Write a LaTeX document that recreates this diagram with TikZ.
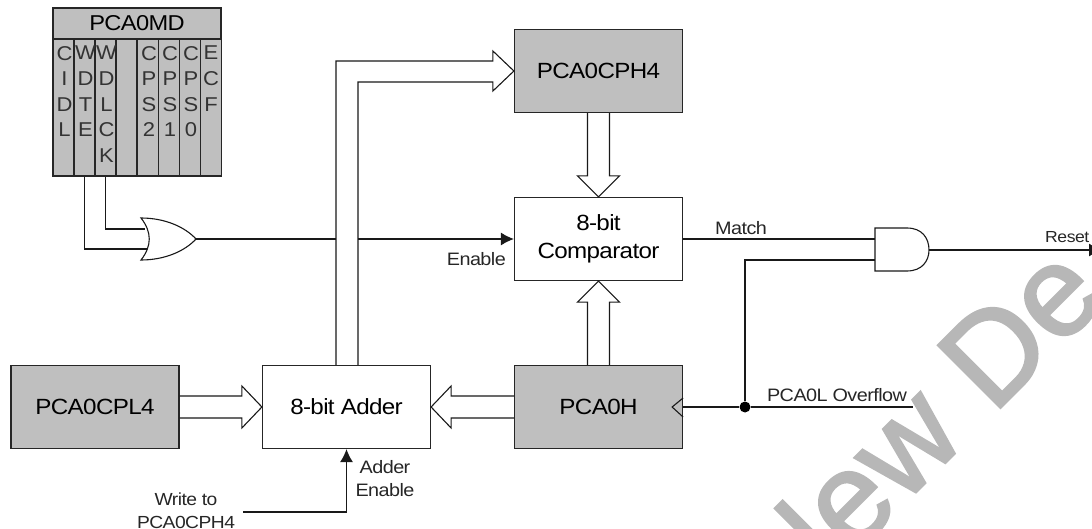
\documentclass[tikz,border=0pt]{standalone}
\usepackage{fontspec}
\setmainfont{Liberation Sans}[LetterSpace=-3,FakeStretch=1.1]
\newfontfamily\wmfont{Liberation Sans}[FakeBold=2]
\usetikzlibrary{calc,arrows.meta}
\definecolor{boxgray}{RGB}{191,191,191}
\definecolor{wmgray}{RGB}{183,183,183}
\tikzset{
  wire/.style={line width=1.1pt,draw=black!90},
  graybox/.style={draw=black!85,line width=1.2pt,fill=boxgray,minimum width=168pt,minimum height=83pt,inner sep=0pt,font=\fontsize{22}{28}\selectfont,align=center},
  whitebox/.style={graybox,fill=white},
  colbox/.style={draw=black!85,line width=1.2pt,fill=boxgray,minimum width=21pt,minimum height=137pt,inner sep=0pt},
  coltext/.style={anchor=north,inner sep=0pt,align=center,font=\fontsize{20}{25.6}\selectfont,text=black!80},
  small/.style={inner sep=0pt,align=center,font=\fontsize{18}{23}\selectfont,text=black!85},
  sig/.style={wire,-{Latex[length=13pt,width=13pt]}}
}
\newcommand{\hbus}[3]{% from, to, sign: sign = -1 head points to the right
  \draw[wire] ($(#1)+(0,-11)$) -- ($(#2)+(#3*20,-11)$) -- ($(#2)+(#3*20,-21)$) -- (#2) -- ($(#2)+(#3*20,21)$) -- ($(#2)+(#3*20,11)$) -- ($(#1)+(0,11)$);}
\newcommand{\vbus}[3]{%
  \draw[wire] ($(#1)+(-11,0)$) -- ($(#2)+(-11,#3*21)$) -- ($(#2)+(-21,#3*21)$) -- (#2) -- ($(#2)+(21,#3*21)$) -- ($(#2)+(11,#3*21)$) -- ($(#1)+(11,0)$);}
\begin{document}
\begin{tikzpicture}[x=1pt,y=-1pt]
\useasboundingbox (0,0) rectangle (1092,529);
\clip (0,0) rectangle (1092,529);
% watermark
\node[rotate=45,anchor=base east,inner sep=0pt,text=wmgray,font=\wmfont\fontsize{128}{128}\selectfont] (wm) at (1109,299) {New De};
% PCA0MD
\node[draw=black!85,line width=1.2pt,fill=boxgray,minimum width=168pt,minimum height=31pt,inner sep=0pt,font=\fontsize{21.5}{26}\selectfont] (md) at (137,23.5) {PCA0MD};
\node[colbox] (c1) at (63.5,107.5) {};
\node[colbox] (c2) at (84.5,107.5) {};
\node[colbox] (c3) at (105.5,107.5) {};
\node[colbox] (c4) at (126.5,107.5) {};
\node[colbox] (c5) at (148,107.5) {};
\node[colbox] (c6) at (169,107.5) {};
\node[colbox] (c7) at (190,107.5) {};
\node[colbox] (c8) at (211,107.5) {};
\node[coltext] (t1) at (64.5,46) {C\\I\\D\\L};
\node[coltext] (t2) at (85.5,46) {W\\D\\T\\E};
\node[coltext] (t3) at (106.5,46) {W\\D\\L\\C\\K};
\node[coltext] (t5) at (149,46) {C\\P\\S\\2};
\node[coltext] (t6) at (170,46) {C\\P\\S\\1};
\node[coltext] (t7) at (191,46) {C\\P\\S\\0};
\node[coltext] (t8) at (211,46) {E\\C\\F};
% blocks
\node[graybox] (cph) at (598.5,71) {PCA0CPH4};
\node[whitebox] (cmp) at (598.5,239) {8-bit\\Comparator};
\node[graybox] (pch) at (598.5,407) {PCA0H};
\node[graybox] (cpl) at (95,407) {PCA0CPL4};
\node[whitebox] (add) at (346.5,407) {8-bit Adder};
% coordinates
\coordinate (orA) at (145,229);
\coordinate (orB) at (147,249);
\coordinate (orout) at (196,239);
\coordinate (andA) at (875,239);
\coordinate (andB) at (875,260);
\coordinate (andout) at (929,250);
\coordinate (busW) at (336,239);
\coordinate (busE) at (358,239);
\coordinate (reset) at (1102,250);
\coordinate (ovf) at (913,407);
\coordinate (wr) at (243,512);
% PCA0MD to OR
\draw[wire] (c3.south) |- (orA);
\draw[wire] (c2.south) |- (orB);
\draw[wire,fill=white] (141,218) .. controls (165,218) and (185,227) .. (196,239) .. controls (185,251) and (165,260) .. (141,260) .. controls (152,246) and (152,232) .. (141,218) -- cycle;
% enable
\draw[wire] (orout) -- (busW);
\draw[sig] (busE) -- (cmp.west);
% buses
\hbus{cpl.east}{add.west}{-1}
\hbus{pch.west}{add.east}{1}
\vbus{cph.south}{cmp.north}{-1}
\vbus{pch.north}{cmp.south}{1}
\draw[wire] ($(add.north)+(-10.5,0)$) |- ($(cph.west)+(-21,-10)$) -- ($(cph.west)+(-21,-20)$) -- (cph.west) -- ($(cph.west)+(-21,20)$) -- ($(cph.west)+(-21,11)$) -| ($(add.north)+(11.5,0)$);
% AND gate
\draw[wire] (cmp.east) -- (andA);
\node[circle,fill=black,inner sep=0pt,minimum size=11pt] (dot) at (745,407) {};
\draw[wire] (dot) |- (andB);
\draw[wire,fill=white] (875,228) -- (907,228) .. controls (922,228) and (929,238) .. (929,250) .. controls (929,261) and (922,271) .. (907,271) -- (875,271) -- cycle;
\draw[sig] (andout) -- (reset);
% overflow
\draw[wire] (pch.east) -- (dot);
\draw[wire] (dot) -- (ovf);
\draw[wire] ($(pch.east)+(0,-9)$) -- ($(pch.east)+(-11,0)$) -- ($(pch.east)+(0,10)$);
% adder enable
\draw[sig] (wr) -| (add.south);
% labels
\node[small] (lmatch) at (741,228) {Match};
\node[small,anchor=west,font=\fontsize{16}{20}\selectfont] (lreset) at (1045,237) {Reset};
\node[small] (lovf) at (837,395) {PCA0L Overflow};
\node[small,anchor=east] (lenable) at (506,259) {Enable};
\node[small] (ladd) at (385,479) {Adder\\Enable};
\node[small,font=\fontsize{17.5}{23}\selectfont] (lwr) at (186,511) {Write to\\PCA0CPH4};
\end{tikzpicture}
\end{document}
